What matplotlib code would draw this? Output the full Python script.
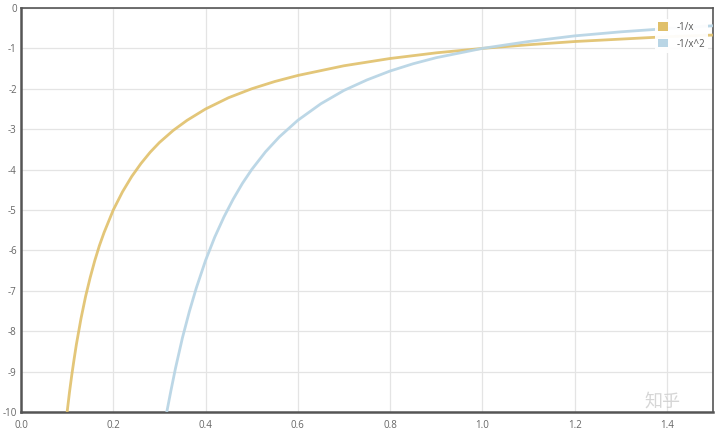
import matplotlib.pyplot as plt
from matplotlib.patches import Patch

plt.rcParams['font.family'] = ['Open Sans', 'DejaVu Sans', 'Noto Sans CJK SC']
plt.rcParams['axes.unicode_minus'] = False

# values
x_inv = [0.1, 0.105, 0.11, 0.115, 0.12, 0.13, 0.14, 0.15, 0.16, 0.17, 0.18, 0.2, 0.22, 0.24,
         0.26, 0.28, 0.3, 0.33, 0.36, 0.4, 0.45, 0.5, 0.55, 0.6, 0.7, 0.8, 0.9, 1.0,
         1.1, 1.2, 1.3, 1.4, 1.5]
y_inv = [-10.0, -9.52, -9.09, -8.70, -8.33, -7.69, -7.14, -6.67, -6.25, -5.88, -5.56, -5.0,
         -4.55, -4.17, -3.85, -3.57, -3.33, -3.03, -2.78, -2.5, -2.22, -2.0, -1.82, -1.67,
         -1.43, -1.25, -1.11, -1.0, -0.91, -0.83, -0.77, -0.71, -0.67]

x_inv2 = [0.316, 0.325, 0.335, 0.35, 0.365, 0.38, 0.4, 0.42, 0.44, 0.46, 0.48, 0.5, 0.53,
          0.56, 0.6, 0.65, 0.7, 0.75, 0.8, 0.85, 0.9, 1.0, 1.1, 1.2, 1.3, 1.4, 1.5]
y_inv2 = [-10.0, -9.47, -8.91, -8.16, -7.51, -6.93, -6.25, -5.67, -5.17, -4.73, -4.34, -4.0,
          -3.56, -3.19, -2.78, -2.37, -2.04, -1.78, -1.56, -1.38, -1.23, -1.0, -0.83,
          -0.69, -0.59, -0.51, -0.44]

labels = ['-1/x', '-1/x^2']
colors = ['#e0c06a', '#b9d5e5']

fig = plt.figure(figsize=(7.2, 4.33), dpi=100)
ax = fig.add_axes([21 / 720, 1 - 412 / 433, (713 - 21) / 720, (412 - 8) / 433])

ax.plot(x_inv, y_inv, color=colors[0], lw=2.0, alpha=0.9, zorder=3)
ax.plot(x_inv2, y_inv2, color=colors[1], lw=2.0, alpha=0.95, zorder=3)

ax.set_xlim(0, 1.5)
ax.set_ylim(-10, 0)
ax.set_xticks([0.0, 0.2, 0.4, 0.6, 0.8, 1.0, 1.2, 1.4])
ax.set_xticklabels(['0.0', '0.2', '0.4', '0.6', '0.8', '1.0', '1.2', '1.4'])
ax.set_yticks(range(-10, 1))
ax.grid(True, color='#e4e4e4', lw=0.9)
ax.set_axisbelow(True)
ax.tick_params(length=0, labelsize=7, colors='#666666')
ax.tick_params(axis='y', pad=3)
ax.tick_params(axis='x', pad=6)

for side in ['left', 'bottom']:
    ax.spines[side].set_color('#555555')
    ax.spines[side].set_linewidth(1.8)
for side in ['top', 'right']:
    ax.spines[side].set_color('#555555')
    ax.spines[side].set_linewidth(1.2)

handles = [Patch(facecolor=colors[0], edgecolor='none'),
           Patch(facecolor=colors[1], edgecolor='none')]
leg = ax.legend(handles, labels, loc='upper right', bbox_to_anchor=(1.0, 0.985),
                fontsize=7, frameon=True, handlelength=1.0, handleheight=0.9,
                handletextpad=0.9, borderpad=0.3, labelspacing=0.6)
leg.get_frame().set_facecolor('white')
leg.get_frame().set_edgecolor('none')
leg.get_frame().set_alpha(0.95)
for t in leg.get_texts():
    t.set_color('#555555')

fig.text(0.895, 0.06, '知乎', fontsize=13, color='#cccccc',
         family=['Noto Sans CJK SC', 'DejaVu Sans'], alpha=0.8)

fig.savefig('out.png', dpi=100)
